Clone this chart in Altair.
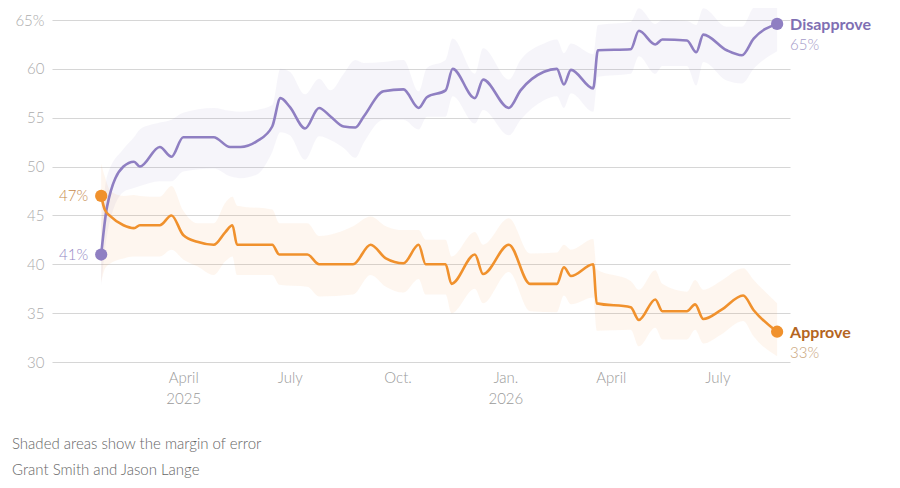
import altair as alt
import pandas as pd

FONT = "Lato"
PURPLE = "#8f7fc2"
ORANGE = "#f0912d"

# ---- Disapprove series ----
dis_dates = ["2025-01-21", "2025-01-26", "2025-02-09", "2025-02-18", "2025-02-23", "2025-03-12",
             "2025-03-22", "2025-04-01", "2025-04-27", "2025-05-11", "2025-05-20", "2025-06-03",
             "2025-06-16", "2025-06-23", "2025-07-01", "2025-07-14", "2025-07-26", "2025-08-05",
             "2025-08-16", "2025-08-26", "2025-09-02", "2025-09-19", "2025-10-06", "2025-10-19",
             "2025-10-26", "2025-11-11", "2025-11-17", "2025-12-06", "2025-12-13", "2026-01-04",
             "2026-01-14", "2026-02-03", "2026-02-14", "2026-02-20", "2026-02-26", "2026-03-17",
             "2026-03-21", "2026-04-18", "2026-04-25", "2026-05-09", "2026-05-15", "2026-06-05",
             "2026-06-13", "2026-06-19", "2026-07-09", "2026-07-22", "2026-08-01", "2026-08-21"]
dis_vals = [41.0, 45.9, 50.0, 50.5, 50.0, 52.0,
            51.0, 53.0, 53.0, 52.0, 52.0, 52.6,
            54.1, 57.0, 56.1, 53.9, 56.0, 55.1,
            54.1, 54.0, 55.1, 57.7, 57.9, 56.0,
            57.1, 57.8, 60.0, 57.0, 58.9, 56.0,
            57.8, 59.7, 60.0, 58.4, 59.9, 58.0,
            61.9, 62.0, 63.9, 62.5, 63.0, 62.9,
            61.7, 63.5, 61.9, 61.4, 63.1, 64.6]
dis_lo = [37.8, 43.0, 47.4, 47.8, 48.0, 48.5,
          48.5, 49.5, 49.8, 49.0, 48.8, 49.2,
          51.5, 53.5, 53.2, 50.7, 53.1, 52.7,
          51.9, 50.9, 52.4, 54.8, 54.8, 53.8,
          55.1, 55.1, 57.2, 54.4, 55.8, 53.2,
          54.8, 56.8, 57.2, 56.0, 57.5, 55.6,
          59.2, 59.5, 61.3, 59.5, 60.3, 60.3,
          58.3, 60.7, 58.8, 58.5, 60.0, 61.8]
dis_hi = [44.0, 49.0, 51.8, 53.0, 53.8, 54.5,
          54.8, 55.5, 56.0, 55.7, 55.6, 55.8,
          56.3, 60.0, 59.7, 57.4, 59.0, 57.8,
          59.5, 60.9, 60.6, 60.7, 60.9, 57.7,
          60.1, 60.9, 63.1, 59.5, 62.1, 58.9,
          60.9, 62.6, 63.0, 61.6, 62.6, 61.5,
          64.5, 64.8, 66.2, 64.6, 65.0, 64.9,
          64.5, 66.2, 64.3, 64.3, 66.3, 67.3]

# ---- Approve series ----
app_dates = ["2025-01-21", "2025-01-24", "2025-01-29", "2025-02-09", "2025-02-18", "2025-02-23",
             "2025-03-12", "2025-03-22", "2025-04-01", "2025-04-13", "2025-04-27", "2025-05-07",
             "2025-05-13", "2025-05-17", "2025-06-16", "2025-06-22", "2025-07-16", "2025-07-26",
             "2025-08-24", "2025-09-08", "2025-09-21", "2025-10-06", "2025-10-19", "2025-10-25",
             "2025-11-11", "2025-11-16", "2025-12-06", "2025-12-13", "2026-01-04", "2026-01-22",
             "2026-02-14", "2026-02-20", "2026-02-26", "2026-03-17", "2026-03-20", "2026-04-18",
             "2026-04-25", "2026-05-09", "2026-05-15", "2026-06-05", "2026-06-12", "2026-06-19",
             "2026-07-04", "2026-07-23", "2026-08-01", "2026-08-21"]
app_vals = [47.0, 45.6, 44.9, 44.0, 43.7, 44.0,
            44.0, 45.0, 43.0, 42.3, 42.0, 43.3,
            44.0, 42.0, 42.0, 41.0, 41.0, 40.0,
            40.0, 42.0, 40.6, 40.1, 42.0, 40.0,
            40.0, 38.0, 41.0, 39.0, 42.0, 38.0,
            38.0, 39.7, 38.8, 40.0, 36.0, 35.6,
            34.3, 36.4, 35.2, 35.2, 35.9, 34.4,
            35.3, 36.8, 35.3, 33.1]
app_lo = [38.1, 39.5, 40.1, 40.6, 40.8, 40.8,
          40.8, 41.5, 40.5, 39.8, 38.9, 40.3,
          40.8, 38.9, 38.9, 37.9, 37.7, 36.7,
          36.9, 38.9, 37.7, 37.1, 38.5, 36.9,
          36.9, 35.0, 37.5, 36.0, 39.2, 35.2,
          35.1, 36.8, 35.9, 36.6, 33.2, 33.3,
          31.6, 33.5, 32.3, 32.3, 33.3, 31.9,
          32.8, 34.2, 32.6, 30.6]
app_hi = [50.3, 49.0, 47.5, 47.0, 47.1, 47.0,
          46.9, 48.0, 45.5, 44.2, 44.2, 46.3,
          46.9, 46.0, 45.6, 44.2, 44.2, 42.9,
          43.9, 44.9, 43.9, 43.5, 43.5, 42.5,
          42.5, 40.8, 43.3, 42.0, 44.7, 41.1,
          41.2, 42.0, 41.5, 42.6, 39.5, 38.3,
          37.4, 39.4, 38.0, 37.2, 38.4, 37.4,
          38.3, 39.6, 38.4, 36.0]

y_ticks = [30, 35, 40, 45, 50, 55, 60, 65]
x_ticks = [(2025, 4), (2025, 7), (2025, 10), (2026, 1), (2026, 4), (2026, 7)]
note_text = "Shaded areas show the margin of error"
credit_text = "Grant Smith and Jason Lange"

dis = pd.DataFrame({"date": dis_dates, "value": dis_vals, "lo": dis_lo, "hi": dis_hi})
dis["series"] = "Disapprove"
app = pd.DataFrame({"date": app_dates, "value": app_vals, "lo": app_lo, "hi": app_hi})
app["series"] = "Approve"
df = pd.concat([dis, app], ignore_index=True)

starts = pd.DataFrame({
    "date": [dis_dates[0], app_dates[0]],
    "value": [dis_vals[0], app_vals[0]],
    "series": ["Disapprove", "Approve"],
    "pct": [f"{round(dis_vals[0])}%", f"{round(app_vals[0])}%"],
    "tcolor": ["#9387c4", "#c68a4c"],
})
ends = pd.DataFrame({
    "date": [dis_dates[-1], app_dates[-1]],
    "value": [dis_vals[-1], app_vals[-1]],
    "series": ["Disapprove", "Approve"],
    "pct": [f"{round(dis_vals[-1])}%", f"{round(app_vals[-1])}%"],
    "ncolor": ["#7f6fb3", "#b4651f"],
    "pcolor": ["#a39ac8", "#c9a47a"],
})

color = alt.Color("series:N",
                  scale=alt.Scale(domain=["Disapprove", "Approve"], range=[PURPLE, ORANGE]),
                  legend=None)

label_expr = (
    "[utcFormat(datum.value, '%m') == '04' ? 'April' : utcFormat(datum.value, '%m') == '07' ? 'July' : "
    "utcFormat(datum.value, '%m') == '10' ? 'Oct.' : 'Jan.', "
    "(utcFormat(datum.value, '%Y-%m') == '2025-04' || utcFormat(datum.value, '%m') == '01') ? "
    "utcFormat(datum.value, '%Y') : '']"
)

x = alt.X("date:T",
          scale=alt.Scale(type="utc",
                          domain=[alt.DateTime(year=2024, month=12, date=10, utc=True),
                                  alt.DateTime(year=2026, month=9, date=1, utc=True)]),
          axis=alt.Axis(values=[alt.DateTime(year=yy, month=mm, date=1, utc=True) for yy, mm in x_ticks],
                        labelExpr=label_expr, grid=False, domain=False, ticks=False,
                        labelPadding=8, labelLineHeight=21, labelFontSize=15,
                        labelColor="#9a9a9a", labelFont=FONT, labelOverlap=False,
                        labelAlign="center", labelFontWeight=300),
          title=None)

yscale = alt.Scale(domain=[30, 65], nice=False, zero=False)
y = alt.Y("value:Q", scale=yscale,
          axis=alt.Axis(values=y_ticks, labelExpr="datum.value == 65 ? '65%' : datum.label",
                        grid=True, gridColor="#d6d6d6", gridWidth=1.2, domain=False, ticks=False,
                        labelPadding=8, labelFontSize=15, labelColor="#ababab", labelFont=FONT,
                        labelFontWeight=300),
          title=None)

base = alt.Chart(df)

bands = base.mark_area(interpolate="monotone", opacity=0.08).encode(
    x=x,
    y=alt.Y("lo:Q", scale=yscale, title=None),
    y2="hi:Q",
    color=color,
    detail="series:N",
)

lines = base.mark_line(interpolate="monotone", strokeWidth=2.6).encode(
    x=x, y=y, color=color, detail="series:N"
)

dots = alt.Chart(pd.concat([starts[["date", "value", "series"]], ends[["date", "value", "series"]]])).mark_point(
    filled=True, size=150, opacity=1
).encode(x=x, y=y, color=color)

start_labels = alt.Chart(starts).mark_text(
    align="right", baseline="middle", dx=-13, fontSize=15, font=FONT, fontWeight=300
).encode(x=x, y=y, text="pct:N", color=alt.Color("tcolor:N", scale=None))

end_names = alt.Chart(ends).mark_text(
    align="left", baseline="middle", dx=13, dy=1, fontSize=16, font=FONT, fontWeight="bold"
).encode(x=x, y=y, text="series:N", color=alt.Color("ncolor:N", scale=None))

end_pcts = alt.Chart(ends).mark_text(
    align="left", baseline="middle", dx=13, dy=21, fontSize=15, font=FONT, fontWeight=300
).encode(x=x, y=y, text="pct:N", color=alt.Color("pcolor:N", scale=None))

note = alt.Chart(pd.DataFrame({"t": [note_text]})).mark_text(
    align="left", baseline="middle", fontSize=15, font=FONT, color="#666666", fontWeight=300
).encode(x=alt.value(-40), y=alt.value(424), text="t:N")

credit = alt.Chart(pd.DataFrame({"t": [credit_text]})).mark_text(
    align="left", baseline="middle", fontSize=15, font=FONT, color="#666666", fontWeight=300
).encode(x=alt.value(-40), y=alt.value(450), text="t:N")

chart = alt.layer(bands, lines, dots, start_labels, end_names, end_pcts, note, credit).properties(
    width=738, height=342,
    padding={"left": 44, "top": 12, "right": 102, "bottom": 118},
    autosize=alt.AutoSizeParams(type="none"),
    background="white",
).configure_view(stroke=None)

chart.save("out.html", embed_options={"renderer": "svg", "actions": False})
